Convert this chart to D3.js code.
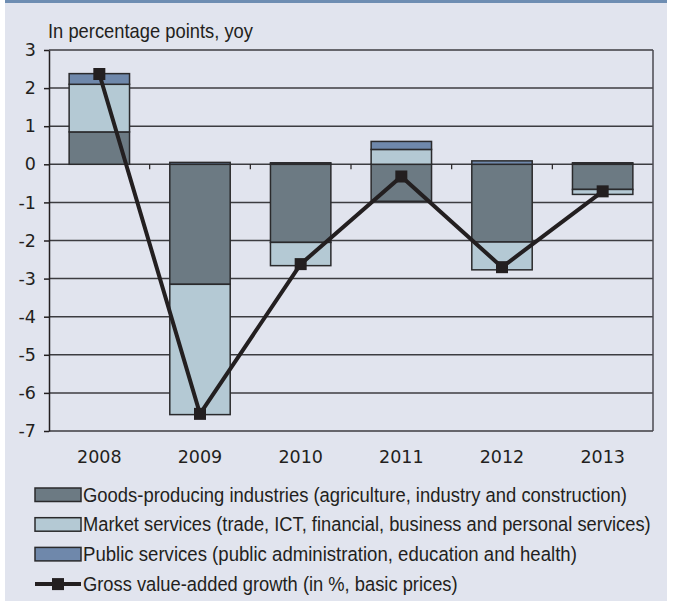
<!DOCTYPE html>
<html>
<head>
<meta charset="utf-8">
<script src="https://cdn.jsdelivr.net/npm/d3@7"></script>
<style>
  body { margin: 0; background: #ffffff; }
  svg { display: block; }
  .tick-label { font-family: "DejaVu Sans", sans-serif; font-size: 17.5px; fill: #231f20; }
  .narrow { font-family: "Liberation Sans", Arial, sans-serif; fill: #231f20; }
</style>
</head>
<body>
<div id="chart"></div>
<script>
// data
const years = ['2008', '2009', '2010', '2011', '2012', '2013'];
const goods = [0.85, -3.15, -2.05, -0.97, -2.04, -0.66];
const market = [1.25, -3.42, -0.61, 0.39, -0.73, -0.13];
const publicSvc = [0.28, 0.05, 0.04, 0.21, 0.09, 0.04];
const gvaGrowth = [2.37, -6.55, -2.62, -0.32, -2.7, -0.71];
const yTicks = [3, 2, 1, 0, -1, -2, -3, -4, -5, -6, -7];

const seriesKeys = ['goods', 'market', 'public'];
const seriesLabels = [
  'Goods-producing industries (agriculture, industry and construction)',
  'Market services (trade, ICT, financial, business and personal services)',
  'Public services (public administration, education and health)'
];
const lineLabel = 'Gross value-added growth (in %, basic prices)';
const colors = { goods: '#6c7a83', market: '#b4c9d4', public: '#6f88ab' };
const ink = '#231f20';

const width = 678, height = 601;
const margin = { top: 50, right: 25, bottom: 170, left: 49 };

// the original uses a condensed face; squeeze Liberation Sans to the same width
const legendWidths = [544, 568, 494, 375];

const table = years.map((y, i) => ({
  year: y, goods: goods[i], market: market[i], public: publicSvc[i], gva: gvaGrowth[i]
}));

const svg = d3.select('#chart').append('svg')
  .attr('width', width)
  .attr('height', height);

// panel background and top band
svg.append('rect').attr('x', 5).attr('y', 0).attr('width', 662).attr('height', height)
  .attr('fill', '#e1e4ee');
svg.append('rect').attr('x', 5).attr('y', 0).attr('width', 662).attr('height', 3)
  .attr('fill', '#6e8db2');

const x = d3.scaleBand()
  .domain(years)
  .range([margin.left, width - margin.right])
  .paddingInner(0.4)
  .paddingOuter(0.2);

const y = d3.scaleLinear()
  .domain([-7, 3])
  .range([height - margin.bottom, margin.top]);

// gridlines
svg.append('g')
  .selectAll('line')
  .data(yTicks)
  .join('line')
  .attr('x1', margin.left)
  .attr('x2', width - margin.right)
  .attr('y1', d => y(d))
  .attr('y2', d => y(d))
  .attr('stroke', '#3c3c40')
  .attr('stroke-width', 1.5);

// right border
svg.append('line')
  .attr('x1', width - margin.right).attr('x2', width - margin.right)
  .attr('y1', y(3)).attr('y2', y(-7))
  .attr('stroke', '#4a4a50').attr('stroke-width', 1.5);

// y axis
const yAxis = svg.append('g')
  .attr('transform', `translate(${margin.left},0)`)
  .call(d3.axisLeft(y).tickValues(yTicks).tickFormat(d => String(d))
    .tickSize(5).tickSizeOuter(0).tickPadding(8));
yAxis.select('.domain').attr('stroke', ink).attr('stroke-width', 1.5);
yAxis.selectAll('.tick line').attr('stroke', ink).attr('stroke-width', 1.5);
yAxis.selectAll('.tick text').attr('class', 'tick-label').attr('fill', ink);

// category boundary ticks on the zero line
const step = x.step();
svg.append('g')
  .selectAll('line')
  .data(years.slice(1))
  .join('line')
  .attr('x1', d => x(d) - step * x.paddingInner() / 2)
  .attr('x2', d => x(d) - step * x.paddingInner() / 2)
  .attr('y1', y(0))
  .attr('y2', y(0) + 5)
  .attr('stroke', ink)
  .attr('stroke-width', 1.2);

// x labels
svg.append('g')
  .selectAll('text')
  .data(years)
  .join('text')
  .attr('class', 'tick-label')
  .attr('x', d => x(d) + x.bandwidth() / 2)
  .attr('y', y(-7) + 32)
  .attr('text-anchor', 'middle')
  .text(d => d);

// stacked bars
const stack = d3.stack().keys(seriesKeys).offset(d3.stackOffsetDiverging);
const layers = stack(table);

svg.append('g')
  .selectAll('g')
  .data(layers)
  .join('g')
  .attr('fill', d => colors[d.key])
  .selectAll('rect')
  .data(d => d)
  .join('rect')
  .attr('x', d => x(d.data.year))
  .attr('width', x.bandwidth())
  .attr('y', d => y(Math.max(d[0], d[1])))
  .attr('height', d => Math.abs(y(d[0]) - y(d[1])))
  .attr('stroke', '#2a2a2c')
  .attr('stroke-width', 1.5);

// gva line
const line = d3.line()
  .x(d => x(d.year) + x.bandwidth() / 2)
  .y(d => y(d.gva));

svg.append('path')
  .datum(table)
  .attr('d', line)
  .attr('fill', 'none')
  .attr('stroke', ink)
  .attr('stroke-width', 4);

svg.append('g')
  .selectAll('rect')
  .data(table)
  .join('rect')
  .attr('x', d => x(d.year) + x.bandwidth() / 2 - 6)
  .attr('y', d => y(d.gva) - 6)
  .attr('width', 12)
  .attr('height', 12)
  .attr('fill', ink);

// condensed text: draw at natural width, then scale horizontally to fit
function narrowText(parent, tx, ty, size, str, targetWidth) {
  const g = parent.append('g');
  const t = g.append('text')
    .attr('class', 'narrow')
    .attr('x', 0).attr('y', 0)
    .attr('font-size', size)
    .text(str);
  const k = targetWidth / t.node().getComputedTextLength();
  g.attr('transform', `translate(${tx},${ty}) scale(${k},1)`);
  return g;
}

// title
narrowText(svg, 48, 38, 20, 'In percentage points, yoy', 205);

// legend
const legend = svg.append('g').attr('transform', 'translate(35,488)');
const rowH = 29.7;
seriesKeys.forEach((k, i) => {
  const g = legend.append('g').attr('transform', `translate(0,${i * rowH})`);
  g.append('rect')
    .attr('x', 0).attr('y', 0).attr('width', 46).attr('height', 13.5)
    .attr('fill', colors[k]).attr('stroke', '#2a2a2c').attr('stroke-width', 1.5);
  narrowText(g, 48, 13.5, 19.5, seriesLabels[i], legendWidths[i]);
});
const lg = legend.append('g').attr('transform', `translate(0,${3 * rowH})`);
lg.append('line')
  .attr('x1', 0).attr('x2', 46).attr('y1', 7).attr('y2', 7)
  .attr('stroke', ink).attr('stroke-width', 4);
lg.append('rect')
  .attr('x', 17).attr('y', 1).attr('width', 12).attr('height', 12)
  .attr('fill', ink);
narrowText(lg, 48, 13.5, 19.5, lineLabel, legendWidths[3]);
</script>
</body>
</html>
